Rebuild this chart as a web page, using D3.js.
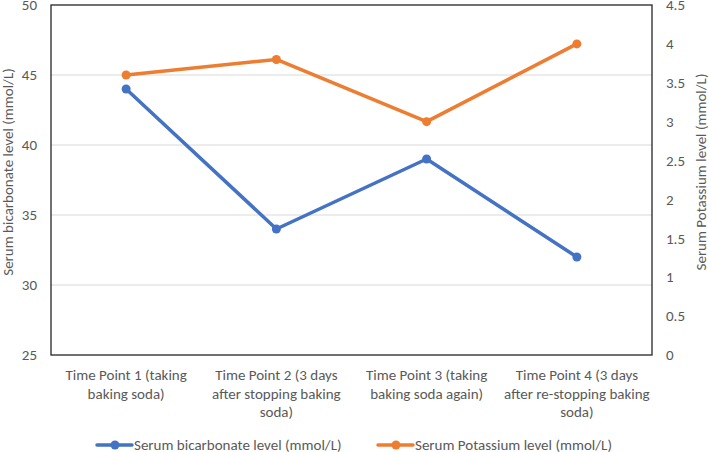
<!DOCTYPE html>
<html><head><meta charset="utf-8">
<script src="https://cdn.jsdelivr.net/npm/d3@7"></script>
<style>
body{margin:0;background:#fff;}
text{font-family:Calibri,Carlito,"Liberation Sans",Arial,sans-serif;fill:#595959;}
</style></head>
<body><svg id="c" width="709" height="452"></svg>
<script>
const categories = [
  ["Time Point 1 (taking", "baking soda)"],
  ["Time Point 2 (3 days", "after stopping baking", "soda)"],
  ["Time Point 3 (taking", "baking soda again)"],
  ["Time Point 4 (3 days", "after re-stopping baking", "soda)"]
];
const bicarbonate = [44, 34, 39, 32];
const potassium = [3.6, 3.8, 3.0, 4.0];
const leftTicks = [25, 30, 35, 40, 45, 50];
const rightTicks = [0, 0.5, 1, 1.5, 2, 2.5, 3, 3.5, 4, 4.5];
const seriesNames = ["Serum bicarbonate level (mmol/L)", "Serum Potassium level (mmol/L)"];
const colors = ["#4472C4", "#ED7D31"];

const svg = d3.select("#c");
const L = 51, R = 652, T = 5, B = 355;
const x = d3.scaleBand().domain(d3.range(categories.length)).range([L, R]);
const yL = d3.scaleLinear().domain([25, 50]).range([B, T]);
const yR = d3.scaleLinear().domain([0, 4.5]).range([B, T]);

svg.append("g").selectAll("line").data(leftTicks.filter(d => d > 25 && d < 50)).join("line")
  .attr("x1", L).attr("x2", R).attr("y1", d => yL(d)).attr("y2", d => yL(d))
  .attr("stroke", "#d9d9d9").attr("stroke-width", 1);

svg.append("rect").attr("x", L).attr("y", T).attr("width", R - L).attr("height", B - T)
  .attr("fill", "none").attr("stroke", "#262626").attr("stroke-width", 1.3);

const fs = 15;
svg.append("g").selectAll("text").data(leftTicks).join("text")
  .attr("x", 37).attr("y", d => yL(d)).attr("dy", "0.35em").attr("text-anchor", "end")
  .attr("font-size", fs).text(d => d);
svg.append("g").selectAll("text").data(rightTicks).join("text")
  .attr("x", 666).attr("y", d => yR(d)).attr("dy", "0.35em").attr("text-anchor", "start")
  .attr("font-size", fs).text(d => d);

svg.append("text").attr("transform", `translate(13,172) rotate(-90)`)
  .attr("text-anchor", "middle").attr("font-size", fs).text("Serum bicarbonate level (mmol/L)");
svg.append("text").attr("transform", `translate(706,172) rotate(-90)`)
  .attr("text-anchor", "middle").attr("font-size", fs).text("Serum Potassium level (mmol/L)");

categories.forEach((lines, i) => {
  const cxx = x(i) + x.bandwidth() / 2;
  const t = svg.append("text").attr("text-anchor", "middle").attr("font-size", fs)
    .attr("x", cxx).attr("y", 380);
  lines.forEach((ln, j) => t.append("tspan").attr("x", cxx)
    .attr("dy", j === 0 ? 0 : 18.5).text(ln));
});

const cx = i => x(i) + x.bandwidth() / 2;
[[bicarbonate, yL], [potassium, yR]].forEach(([data, y], k) => {
  svg.append("path").datum(data)
    .attr("d", d3.line().x((d, i) => cx(i)).y(d => y(d)))
    .attr("fill", "none").attr("stroke", colors[k]).attr("stroke-width", 3.5)
    .attr("stroke-linejoin", "round").attr("stroke-linecap", "round");
  svg.append("g").selectAll("circle").data(data).join("circle")
    .attr("cx", (d, i) => cx(i)).attr("cy", d => y(d)).attr("r", 4.5).attr("fill", colors[k]);
});

const legX = [97, 378];
seriesNames.forEach((name, k) => {
  const g = svg.append("g");
  g.append("line").attr("x1", legX[k]).attr("x2", legX[k] + 35).attr("y1", 445).attr("y2", 445)
    .attr("stroke", colors[k]).attr("stroke-width", 3.5).attr("stroke-linecap", "round");
  g.append("circle").attr("cx", legX[k] + 18).attr("cy", 445).attr("r", 4.5).attr("fill", colors[k]);
  g.append("text").attr("x", legX[k] + 37).attr("y", 445).attr("dy", "0.35em").attr("font-size", fs).text(name);
});
</script></body></html>
